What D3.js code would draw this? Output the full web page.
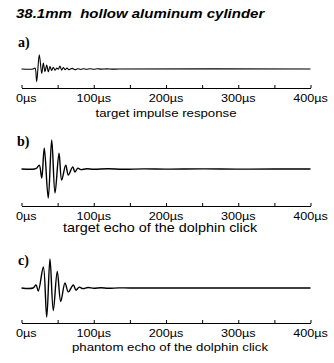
<!DOCTYPE html>
<html>
<head>
<meta charset="utf-8">
<script src="https://cdn.jsdelivr.net/npm/d3@7"></script>
<style>
  html, body { margin: 0; padding: 0; background: #fff; }
  svg { display: block; }
  text { white-space: pre; }
</style>
</head>
<body>
<svg id="chart" width="334" height="363"></svg>
<script>
// Time axis (µs)
const majorTicks = [0, 100, 200, 300, 400];
const minorTicks = [50, 150, 250, 350];
const tickLabel = d => d + "µs";

// a) target impulse response
const timeA = [0, 16, 18.7, 21, 24.6, 28, 30.2, 32.5, 34.9, 37.1, 39.4, 41.8, 44, 46.4, 48.7, 50.9, 53.3, 55.6, 57.9, 60.2, 63, 65.7, 70, 74, 78, 82, 86, 90, 95, 100, 105, 110, 118, 125, 135, 400];
const ampA  = [0, 0, 0.03, -0.42, 0.47, -0.15, 0.2, -0.09, 0.13, -0.09, 0.08, -0.05, 0.06, -0.04, 0.03, -0.01, 0.1, -0.04, 0.05, -0.02, 0.03, -0.02, 0.02, -0.02, 0.01, -0.015, 0.01, -0.01, 0.01, -0.01, 0.01, -0.005, 0.005, -0.005, 0, 0];

// b) target echo of the dolphin click
const timeB = [0, 18, 21, 24.6, 28, 31.5, 37, 41.8, 46.4, 51.9, 55.6, 61.2, 64.8, 70.9, 74, 78, 82, 90, 100, 120, 140, 170, 200, 250, 300, 350, 400];
const ampB  = [0, 0, 0.03, 0.13, -0.3, 0.7, -0.97, 0.97, -0.8, 0.53, -0.37, 0.13, -0.2, 0.07, -0.1, 0.03, -0.02, 0.01, -0.01, 0.01, -0.01, 0.005, -0.005, 0.005, -0.005, 0, 0];

// c) phantom echo of the dolphin click
const timeC = [0, 16, 20.1, 23.3, 30.2, 34.9, 39.4, 44, 49.5, 54.3, 60.2, 64.8, 71.7, 75.4, 80, 85, 92, 100, 110, 120, 135, 150, 400];
const ampC  = [0, 0, 0.1, -0.1, 0.7, -0.97, 0.97, -0.75, 0.55, -0.45, 0.17, -0.13, 0.1, -0.07, 0.03, -0.02, 0.015, -0.01, 0.01, -0.01, 0.005, 0, 0];

const title = "38.1mm  hollow aluminum cylinder";
const panelLetters = ["a)", "b)", "c)"];
const captions = ["target impulse response", "target echo of the dolphin click", "phantom echo of the dolphin click"];

// Layout of the three stacked panels
const panels = [
  { t: timeA, v: ampA, base: 69,  axisY: 88,  letterX: 18, letterY: 47,  capX: 166, capY: 117, capSize: 11.5, stroke: 1.1 },
  { t: timeB, v: ampB, base: 169, axisY: 206, letterX: 17, letterY: 146, capX: 160, capY: 232, capSize: 12.5, stroke: 1.4 },
  { t: timeC, v: ampC, base: 288, axisY: 323, letterX: 18, letterY: 265, capX: 170, capY: 350.5, capSize: 11.5, stroke: 1.4 }
];

const svg = d3.select("#chart");
const x = d3.scaleLinear().domain([0, 400]).range([21.5, 310.5]);
const sans = "Arial, 'Liberation Sans', Helvetica, sans-serif";

// text drawn with a horizontal stretch factor
function stretched(g, str, px, py, size, sx, opts = {}) {
  const t = g.append("text")
    .attr("transform", `translate(${px},${py}) scale(${sx},1)`)
    .attr("font-family", opts.family || sans)
    .attr("font-size", size)
    .attr("fill", "#000")
    .attr("text-anchor", opts.anchor || "middle")
    .attr("xml:space", "preserve")
    .text(str);
  if (opts.weight) t.attr("font-weight", opts.weight);
  if (opts.style) t.attr("font-style", opts.style);
  return t;
}

stretched(svg, title, 16, 18, 12.5, 1.2, { anchor: "start", weight: "bold", style: "italic" });

panels.forEach((p, i) => {
  const g = svg.append("g");
  const y = d3.scaleLinear().domain([-1, 1]).range([p.base + 30, p.base - 30]);

  // panel letter
  g.append("text")
    .attr("x", p.letterX).attr("y", p.letterY)
    .attr("font-family", "'Liberation Serif', 'Times New Roman', serif")
    .attr("font-weight", "bold")
    .attr("font-size", 14)
    .text(panelLetters[i]);

  // waveform
  const pts = p.t.map((t, k) => [t, p.v[k]]);
  g.append("path")
    .datum(pts)
    .attr("fill", "none")
    .attr("stroke", "#000")
    .attr("stroke-width", p.stroke)
    .attr("stroke-linejoin", "round")
    .attr("d", d3.line().x(d => x(d[0])).y(d => y(d[1])).curve(d3.curveCatmullRom.alpha(0.5)));

  // time axis with upward ticks
  const axis = d3.axisBottom(x)
    .tickValues(majorTicks.concat(minorTicks).sort((a, b) => a - b))
    .tickSizeInner(-3)
    .tickSizeOuter(0)
    .tickFormat(d => majorTicks.includes(d) ? tickLabel(d) : "");
  const ag = g.append("g").attr("transform", `translate(0,${p.axisY})`).call(axis);
  ag.select(".domain").attr("stroke", "#000").attr("stroke-width", 1);
  ag.selectAll(".tick line").attr("stroke", "#000").attr("stroke-width", 1);
  ag.selectAll(".tick text").remove();
  majorTicks.forEach((d, k) => {
    const px = k === 0 ? 16 : x(d);
    stretched(ag, tickLabel(d), px, 13.5, 11, 1.15, { anchor: k === 0 ? "start" : "middle" });
  });

  // caption
  stretched(g, captions[i], p.capX, p.capY, p.capSize, 1.15);
});
</script>
</body>
</html>
